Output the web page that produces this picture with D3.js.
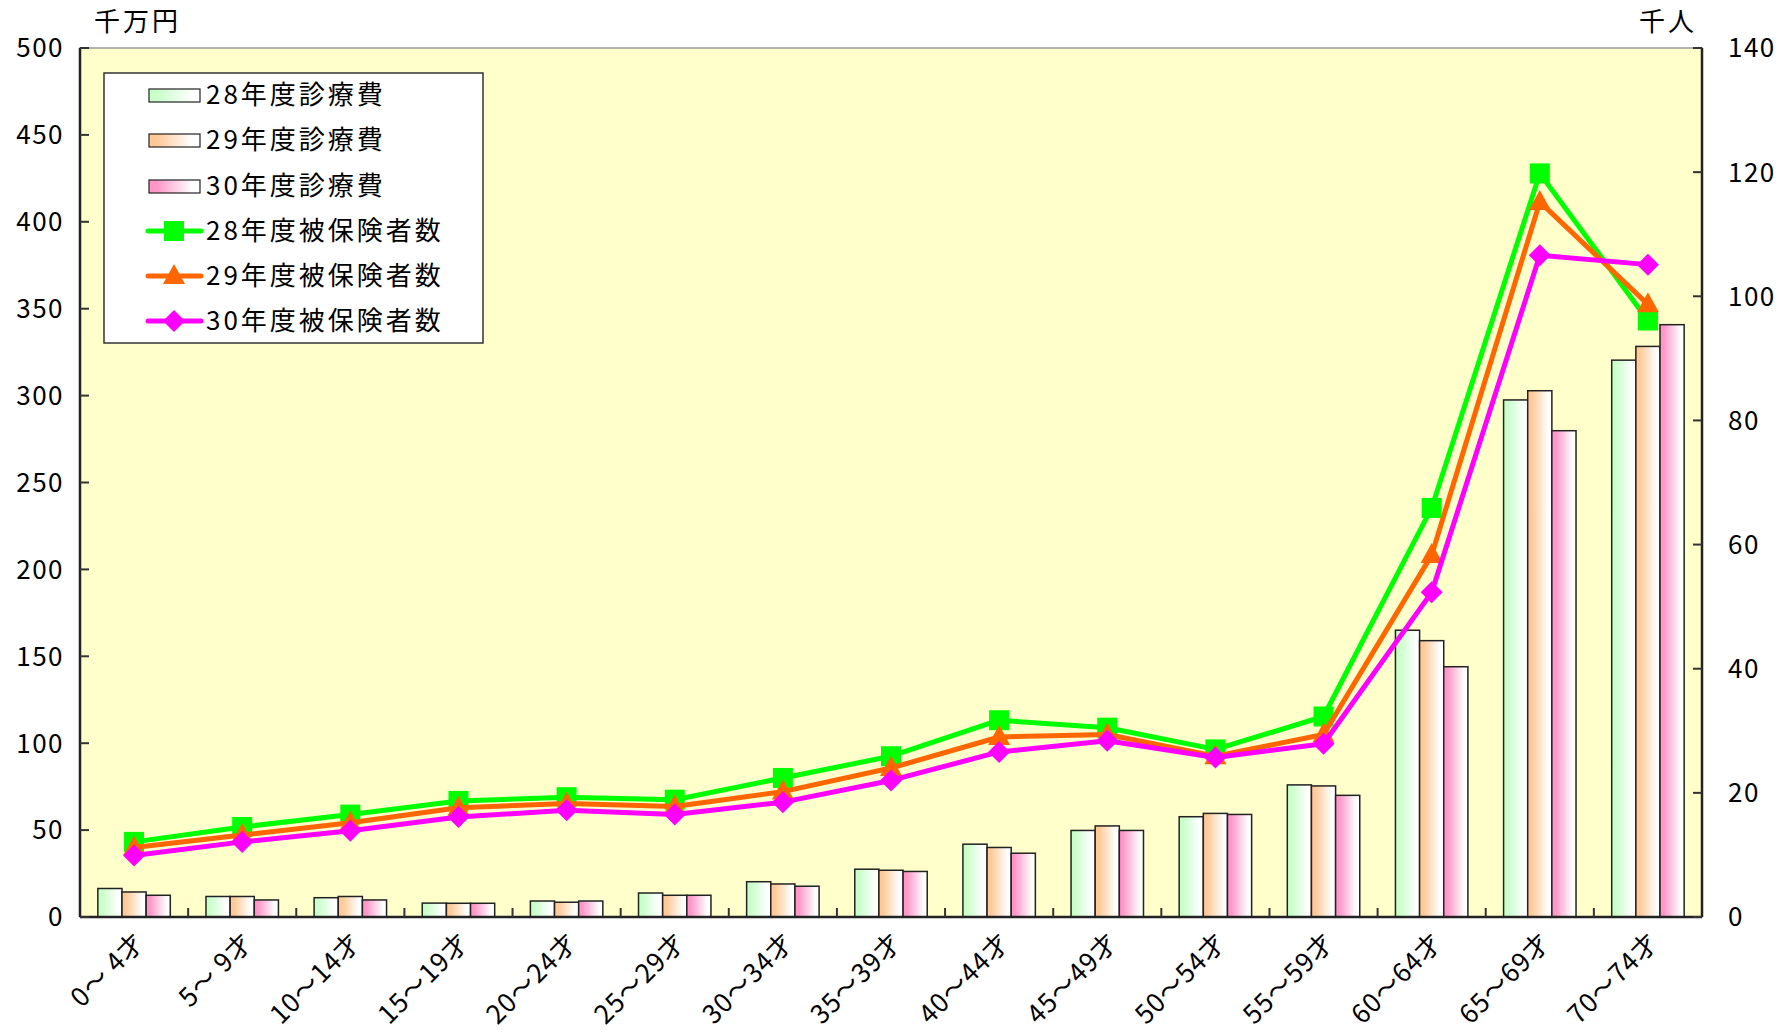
<!DOCTYPE html>
<html><head><meta charset="utf-8">
<script src="https://cdn.jsdelivr.net/npm/d3@7"></script>
<style>
html,body{margin:0;padding:0;background:#fff;}
text{font-family:"Noto Sans CJK JP","Noto Sans",sans-serif;fill:#000;}
</style></head>
<body>
<svg id="chart" width="1784" height="1032"></svg>
<script>
const categories = ["0～ 4才","5～ 9才","10～14才","15～19才","20～24才","25～29才","30～34才","35～39才","40～44才","45～49才","50～54才","55～59才","60～64才","65～69才","70～74才"];
const cost28 = [16.4,11.8,11.1,8.0,9.2,13.8,20.3,27.5,41.9,49.8,57.7,76.0,165.0,297.5,320.4];
const cost29 = [14.4,11.8,11.8,7.9,8.5,12.5,19.0,26.9,40.0,52.4,59.6,75.4,159.0,302.8,328.3];
const cost30 = [12.5,9.8,9.8,7.9,9.2,12.5,17.7,26.2,36.7,49.8,59.0,70.0,144.0,279.8,340.8];
const ins28 = [12.1,14.5,16.5,18.7,19.3,18.9,22.4,25.9,31.7,30.5,27.0,32.3,65.9,119.8,96.1];
const ins29 = [11.2,13.2,15.2,17.6,18.3,17.8,20.2,24.0,29.0,29.4,25.9,29.4,58.3,115.2,98.7];
const ins30 = [9.9,12.1,13.9,16.1,17.2,16.5,18.5,22.0,26.6,28.4,25.7,27.9,52.3,106.6,105.1];
const leftTicks = [0,50,100,150,200,250,300,350,400,450,500];
const rightTicks = [0,20,40,60,80,100,120,140];
const barNames = ["28年度診療費","29年度診療費","30年度診療費"];
const lineNames = ["28年度被保険者数","29年度被保険者数","30年度被保険者数"];

const svg = d3.select("#chart");
const L = 80, R = 1702, T = 48, B = 917;
const FS = 26;

const x = d3.scaleBand().domain(categories).range([L, R]).paddingInner(0.33).paddingOuter(0.165);
const sub = d3.scaleBand().domain([0,1,2]).range([0, x.bandwidth()]);
const yL = d3.scaleLinear().domain([0,500]).range([B, T]);
const yR = d3.scaleLinear().domain([0,140]).range([B, T]);

// gradients
const defs = svg.append("defs");
const barColors = ["#c8ffc8","#ffc896","#ff96c8"];
barColors.forEach((c,i)=>{
  const g = defs.append("linearGradient").attr("id","g"+i).attr("x1","0").attr("x2","1").attr("y1","0").attr("y2","0");
  g.append("stop").attr("offset","0").attr("stop-color",c);
  g.append("stop").attr("offset","0.15").attr("stop-color",c);
  g.append("stop").attr("offset","0.85").attr("stop-color","#ffffff");
  g.append("stop").attr("offset","1").attr("stop-color","#ffffff");
});

// plot background
svg.append("rect").attr("x",L).attr("y",T).attr("width",R-L).attr("height",B-T)
  .attr("fill","#ffffcc").attr("stroke","#999").attr("stroke-width",1.5);

// bars
const costs = [cost28,cost29,cost30];
costs.forEach((arr,si)=>{
  svg.append("g").selectAll("rect").data(arr).join("rect")
    .attr("x",(d,i)=>x(categories[i])+sub(si))
    .attr("y",d=>yL(d))
    .attr("width",sub.bandwidth())
    .attr("height",d=>B-yL(d))
    .attr("fill","url(#g"+si+")")
    .attr("stroke","#222").attr("stroke-width",1.5);
});

// axes lines
const ax = svg.append("g").attr("stroke","#222").attr("stroke-width",2.5);
ax.append("line").attr("x1",L).attr("x2",L).attr("y1",T).attr("y2",B);
ax.append("line").attr("x1",R).attr("x2",R).attr("y1",T).attr("y2",B);
ax.append("line").attr("x1",L).attr("x2",R).attr("y1",B).attr("y2",B);

// ticks (inward)
const tg = svg.append("g").attr("stroke","#333").attr("stroke-width",2);
leftTicks.forEach(v=>{
  tg.append("line").attr("x1",L).attr("x2",L+9).attr("y1",yL(v)).attr("y2",yL(v));
});
rightTicks.forEach(v=>{
  tg.append("line").attr("x1",R-9).attr("x2",R).attr("y1",yR(v)).attr("y2",yR(v));
});
categories.forEach((c,i)=>{
  if(i===0) return;
  const bx = x(c) - x.step()*x.paddingInner()/2;
  tg.append("line").attr("x1",bx).attr("x2",bx).attr("y1",B).attr("y2",B-9);
});

// tick labels
svg.append("g").selectAll("text").data(leftTicks).join("text")
  .attr("x",L-16).attr("y",d=>yL(d)).attr("dy","0.36em").attr("text-anchor","end")
  .attr("font-size",FS).attr("letter-spacing","1.5px").text(d=>d);
svg.append("g").selectAll("text").data(rightTicks).join("text")
  .attr("x",R+26).attr("y",d=>yR(d)).attr("dy","0.36em").attr("text-anchor","start")
  .attr("font-size",FS).attr("letter-spacing","1.5px").text(d=>d);

// axis titles
svg.append("text").attr("x",94).attr("y",22).attr("dy","0.36em").attr("font-size",FS).attr("letter-spacing","3px").text("千万円");
svg.append("text").attr("x",1697).attr("y",22).attr("dy","0.36em").attr("text-anchor","end").attr("font-size",FS).attr("letter-spacing","3px").text("千人");

// x labels
svg.append("g").selectAll("text").data(categories).join("text")
  .attr("transform",d=>`translate(${x(d)+x.bandwidth()/2+6},${B+20}) rotate(-45)`)
  .attr("text-anchor","end").attr("dy","0.36em").attr("font-size",FS).attr("letter-spacing","1px").text(d=>d);

// lines
const lineColors = ["#00ff00","#ff6600","#ff00ff"];
const ins = [ins28,ins29,ins30];
const cx = i => x(categories[i]) + x.bandwidth()/2;
const line = d3.line().x((d,i)=>cx(i)).y(d=>yR(d));
function marker(g, type, color, px, py){
  if(type===0){
    g.append("rect").attr("x",px-10).attr("y",py-10).attr("width",20).attr("height",20).attr("fill",color);
  } else if(type===1){
    g.append("path").attr("d",`M${px},${py-12}L${px+11},${py+8}L${px-11},${py+8}Z`).attr("fill",color);
  } else {
    g.append("path").attr("d",`M${px},${py-11}L${px+11},${py}L${px},${py+11}L${px-11},${py}Z`).attr("fill",color);
  }
}
ins.forEach((arr,si)=>{
  const g = svg.append("g");
  g.append("path").datum(arr).attr("d",line).attr("fill","none")
    .attr("stroke",lineColors[si]).attr("stroke-width",5).attr("stroke-linejoin","round");
  arr.forEach((v,i)=>marker(g,si,lineColors[si],cx(i),yR(v)));
});

// legend
const lg = svg.append("g");
lg.append("rect").attr("x",104).attr("y",73).attr("width",379).attr("height",270)
  .attr("fill","#fff").attr("stroke","#333").attr("stroke-width",1.5);
const rowY = [95,140,186,231,276,321];
barNames.forEach((n,i)=>{
  lg.append("rect").attr("x",149).attr("y",rowY[i]-6).attr("width",51).attr("height",13)
    .attr("fill","url(#g"+i+")").attr("stroke","#222").attr("stroke-width",1.2);
  lg.append("text").attr("x",206).attr("y",rowY[i]).attr("dy","0.36em").attr("font-size",FS).attr("letter-spacing","3px").text(n);
});
lineNames.forEach((n,i)=>{
  const yy = rowY[i+3];
  lg.append("line").attr("x1",148).attr("x2",201).attr("y1",yy).attr("y2",yy)
    .attr("stroke",lineColors[i]).attr("stroke-width",5).attr("stroke-linecap","round");
  marker(lg,i,lineColors[i],174,yy);
  lg.append("text").attr("x",206).attr("y",yy).attr("dy","0.36em").attr("font-size",FS).attr("letter-spacing","3px").text(n);
});
</script>
</body></html>
